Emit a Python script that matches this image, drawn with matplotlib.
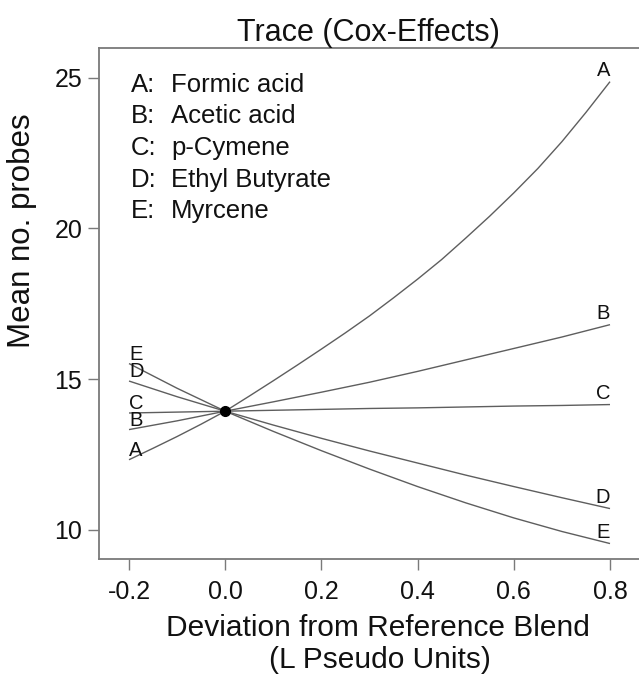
import matplotlib
matplotlib.use("Agg")
import matplotlib.pyplot as plt

plt.rcParams['font.family'] = ['Liberation Sans', 'DejaVu Sans']

# ---- data ----
x_A = [-0.2, -0.15, -0.1, -0.05, 0.0, 0.05, 0.1, 0.15, 0.2, 0.25, 0.3, 0.35, 0.4,
       0.45, 0.5, 0.55, 0.6, 0.65, 0.7, 0.75, 0.8]
trace_A = [12.33, 12.71, 13.10, 13.51, 13.94, 14.44, 14.95, 15.47, 16.00, 16.54, 17.10,
           17.70, 18.32, 18.97, 19.68, 20.41, 21.18, 21.99, 22.88, 23.85, 24.87]
x_pts = [-0.2, -0.1, 0.0, 0.1, 0.2, 0.3, 0.4, 0.5, 0.6, 0.7, 0.8]
trace_B = [13.33, 13.62, 13.94, 14.25, 14.57, 14.90, 15.26, 15.64, 16.02, 16.40, 16.81]
trace_C = [13.88, 13.91, 13.94, 13.97, 14.00, 14.03, 14.05, 14.08, 14.11, 14.13, 14.16]
trace_D = [14.94, 14.42, 13.94, 13.48, 13.04, 12.62, 12.22, 11.82, 11.44, 11.07, 10.71]
trace_E = [15.52, 14.70, 13.94, 13.27, 12.63, 12.02, 11.44, 10.90, 10.40, 9.95, 9.55]
traces = {'A': (x_A, trace_A), 'B': (x_pts, trace_B), 'C': (x_pts, trace_C),
          'D': (x_pts, trace_D), 'E': (x_pts, trace_E)}
legend_codes = ['A:', 'B:', 'C:', 'D:', 'E:']
legend_names = ['Formic acid', 'Acetic acid', 'p-Cymene', 'Ethyl Butyrate', 'Myrcene']
ref_x = [0.0]
ref_y = [13.94]
x_ticks = [-0.2, 0.0, 0.2, 0.4, 0.6, 0.8]
x_ticklabels = ['-0.2', '0.0', '0.2', '0.4', '0.6', '0.8']
y_ticks = [10, 15, 20, 25]

W, H = 639, 674
fig = plt.figure(figsize=(W / 100, H / 100), dpi=100)

def px(x, y):
    return x / W, 1 - y / H

ax_l, ax_r, ax_t, ax_b = 99, 640.5, 48, 559
ax = fig.add_axes([ax_l / W, 1 - ax_b / H, (ax_r - ax_l) / W, (ax_b - ax_t) / H])

line_col = '#5e5e5e'
spine_col = '#7a7a7a'

for key, (xs, ys) in traces.items():
    ax.plot(xs, ys, color=line_col, lw=1.0, solid_capstyle='butt')
    ax.annotate(key, (xs[0], ys[0]), xytext=(0, 0), textcoords='offset pixels',
                ha='left', va='bottom', fontsize=14.5, color='#111111')
    ax.annotate(key, (xs[-1], ys[-1]), xytext=(0, 2), textcoords='offset pixels',
                ha='right', va='bottom', fontsize=14.5, color='#111111')

ax.plot(ref_x, ref_y, 'o', color='black', markersize=7, zorder=5)

ax.set_xlim(-0.2624, 0.8634)
ax.set_ylim(9.0375, 25.986)
ax.set_xticks(x_ticks)
ax.set_xticklabels(x_ticklabels)
ax.set_yticks(y_ticks)

for s in ax.spines.values():
    s.set_color(spine_col)
    s.set_linewidth(1.3)
ax.tick_params(direction='out', length=8, width=1.0, color=spine_col,
               labelsize=18, labelcolor='#111111', pad=4)
ax.tick_params(axis='x', pad=7)

fig.text(*px(368, 41), 'Trace (Cox-Effects)', ha='center', va='baseline',
         fontsize=22, color='#111111')

# legend block
row_y = [91.7, 123, 155, 186.7, 218]
for code, name, yy in zip(legend_codes, legend_names, row_y):
    fig.text(*px(131, yy), code, ha='left', va='baseline', fontsize=18.5, color='#111111')
    fig.text(*px(171, yy), name, ha='left', va='baseline', fontsize=18.5, color='#111111')

# axis labels
fig.text(*px(378, 635.5), 'Deviation from Reference Blend', ha='center', va='baseline',
         fontsize=21.5, color='#111111')
fig.text(*px(380, 668), '(L Pseudo Units)', ha='center', va='baseline',
         fontsize=21.5, color='#111111')
fig.text(*px(22, 231), 'Mean no. probes', ha='center', va='center', rotation=90,
         fontsize=22.5, color='#111111')

fig.savefig('out.png', dpi=100)
